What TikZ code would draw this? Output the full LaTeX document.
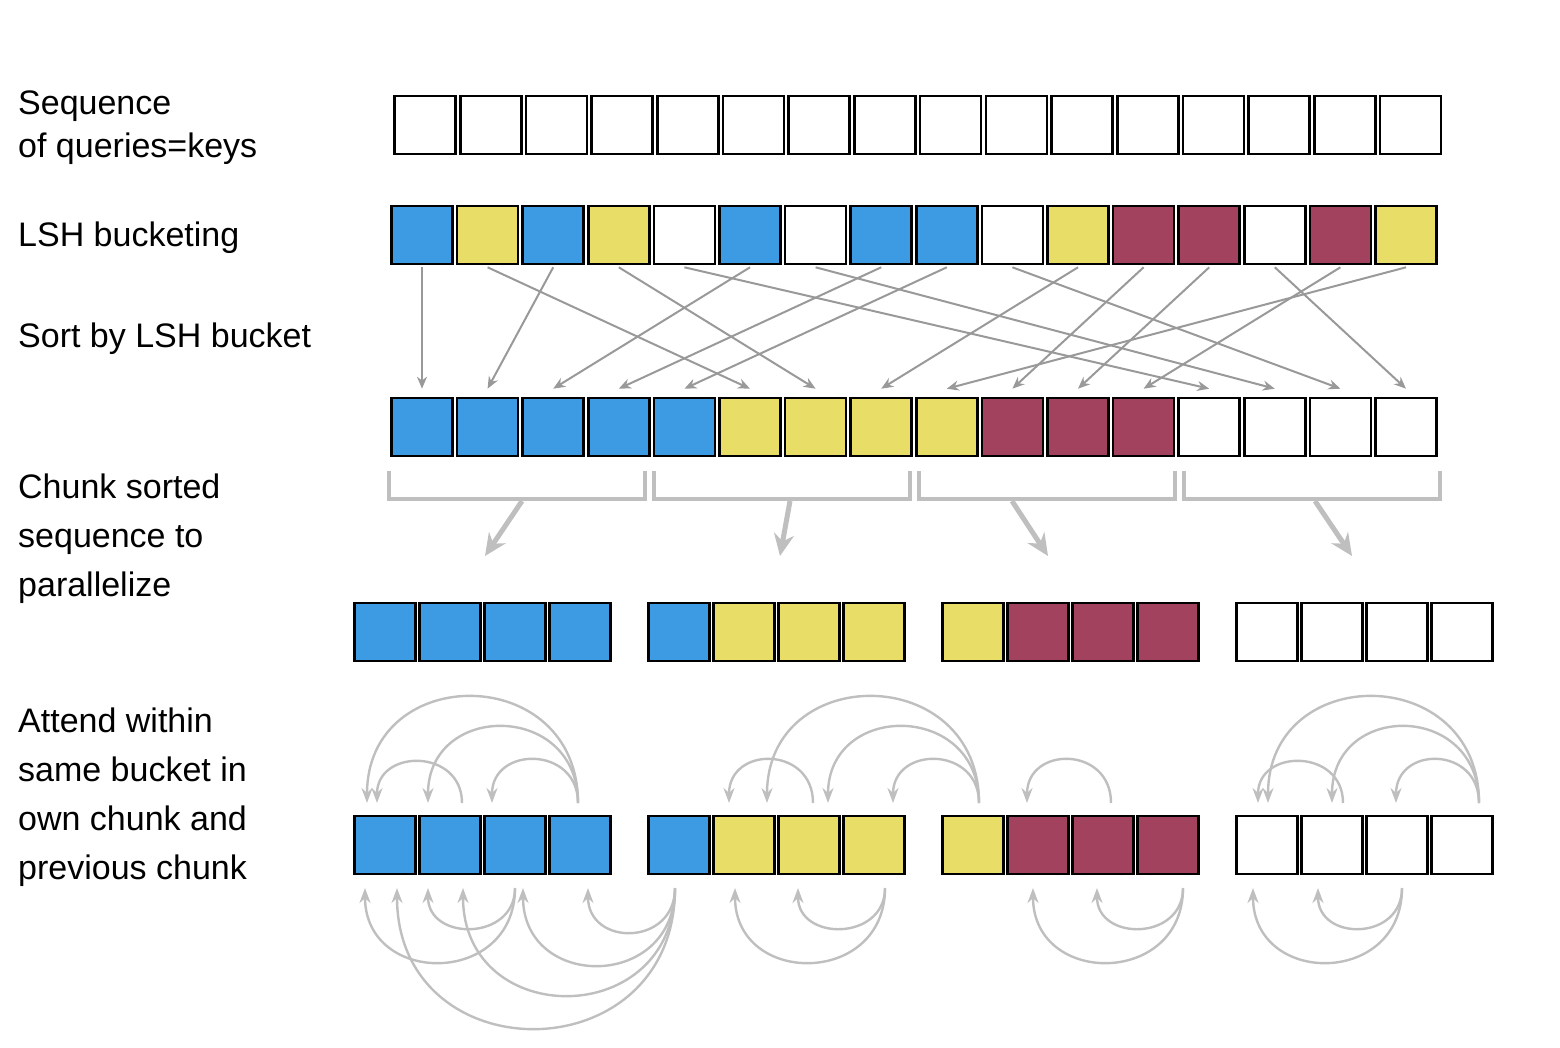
\documentclass[tikz,border=0pt]{standalone}
\usepackage{fontspec}
\setmainfont{Liberation Sans}
\usetikzlibrary{arrows.meta}
\definecolor{qblue}{HTML}{3D9BE3}
\definecolor{qyellow}{HTML}{E8DD66}
\definecolor{qred}{HTML}{A3425F}
\definecolor{qwhite}{HTML}{FFFFFF}
\tikzset{
  cell/.style={draw=black, line width=2.6pt, minimum width=61pt, minimum height=58pt, inner sep=0pt},
  label/.style={anchor=base west, align=left, inner sep=0pt, font=\fontsize{34}{49}\selectfont},
  sortarrow/.style={draw=black!40, line width=2pt, -{Stealth[length=12pt,width=10pt]}},
  bracket/.style={draw=black!25, line width=4pt},
  chunkarrow/.style={draw=black!25, line width=5pt, -{Stealth[length=22pt,width=20pt]}},
  attn/.style={draw=black!25, line width=2.4pt, -{Stealth[length=15pt,width=11pt]}}
}
% arc over or under a row: start x, end x, base y, peak y
\newcommand\attarc[4]{%
  \pgfmathsetmacro\ctl{#3+(#4-#3)*4/3}%
  \draw[attn] (#1,#3) .. controls (#1,\ctl) and (#2,\ctl) .. (#2,#3);}
\begin{document}
\begin{tikzpicture}[x=1pt,y=-1pt]
  \useasboundingbox (0,0) rectangle (1560,1047);

  % labels
  \node[label, font=\fontsize{34}{43}\selectfont] (lseq) at (18,157) {Sequence\\of queries=keys};
  \node[label] (llsh) at (18,246) {LSH bucketing};
  \node[label] (lsort) at (18,347) {Sort by LSH bucket};
  \node[label] (lchunk) at (18,596) {Chunk sorted\\sequence to\\parallelize};
  \node[label] (lattn) at (18,879) {Attend within\\same bucket in\\own chunk and\\previous chunk};

  % row of queries
  \foreach \i in {0,...,15}
    \node[cell] (q\i) at ({425+65.7*\i},125) {};

  % hashed and sorted rows
  \foreach \c [count=\i from 0] in {qblue,qyellow,qblue,qyellow,qwhite,qblue,qwhite,qblue,qblue,qwhite,qyellow,qred,qred,qwhite,qred,qyellow}
    \node[cell, fill=\c] (h\i) at ({422+65.6*\i},235) {};
  \foreach \c [count=\i from 0] in {qblue,qblue,qblue,qblue,qblue,qyellow,qyellow,qyellow,qyellow,qred,qred,qred,qwhite,qwhite,qwhite,qwhite}
    \node[cell, fill=\c] (s\i) at ({422+65.6*\i},427) {};

  % sorting
  \foreach \a/\b in {0/0,2/1,5/2,7/3,8/4,1/5,3/6,10/7,15/8,11/9,12/10,14/11,4/12,6/13,9/14,13/15}
    \draw[sortarrow] ([yshift=-2pt]h\a.south) -- ([yshift=8pt]s\b.north);

  % chunks
  \foreach \k/\ax/\bx in {0/485/522,1/780/790,2/1048/1012,3/1352/1315} {
    \draw[bracket] ({389+265*\k},471) -- ({389+265*\k},499) -- ({645+265*\k},499) -- ({645+265*\k},471);
    \draw[chunkarrow] (\bx,501) -- (\ax,556);
  }

  % chunked rows
  \foreach \c [count=\i from 0] in {qblue,qblue,qblue,qblue,qblue,qyellow,qyellow,qyellow,qyellow,qred,qred,qred,qwhite,qwhite,qwhite,qwhite} {
    \pgfmathtruncatemacro\k{\i/4}
    \pgfmathtruncatemacro\j{\i-4*\k}
    \node[cell, fill=\c] (c\i) at ({385+294*\k+65*\j},632) {};
    \node[cell, fill=\c] (a\i) at ({385+294*\k+65*\j},845) {};
  }

  % attention above
  \attarc{578}{367}{803}{697}
  \attarc{578}{428}{803}{727}
  \attarc{462}{377}{803}{762}
  \attarc{578}{492}{803}{760}
  \attarc{813}{729}{803}{760}
  \attarc{979}{767}{803}{697}
  \attarc{979}{828}{803}{727}
  \attarc{979}{893}{803}{760}
  \attarc{1111}{1027}{803}{760}
  \attarc{1343}{1258}{803}{762}
  \attarc{1479}{1268}{803}{697}
  \attarc{1479}{1332}{803}{727}
  \attarc{1479}{1396}{803}{760}

  % attention below
  \attarc{515}{365}{888}{962}
  \attarc{515}{428}{888}{928}
  \attarc{675}{588}{888}{932}
  \attarc{675}{523}{888}{965}
  \attarc{675}{463}{888}{995}
  \attarc{675}{397}{888}{1028}
  \attarc{885}{735}{888}{962}
  \attarc{885}{798}{888}{928}
  \attarc{1183}{1033}{888}{962}
  \attarc{1183}{1097}{888}{928}
  \attarc{1402}{1253}{888}{962}
  \attarc{1402}{1318}{888}{928}
\end{tikzpicture}
\end{document}
